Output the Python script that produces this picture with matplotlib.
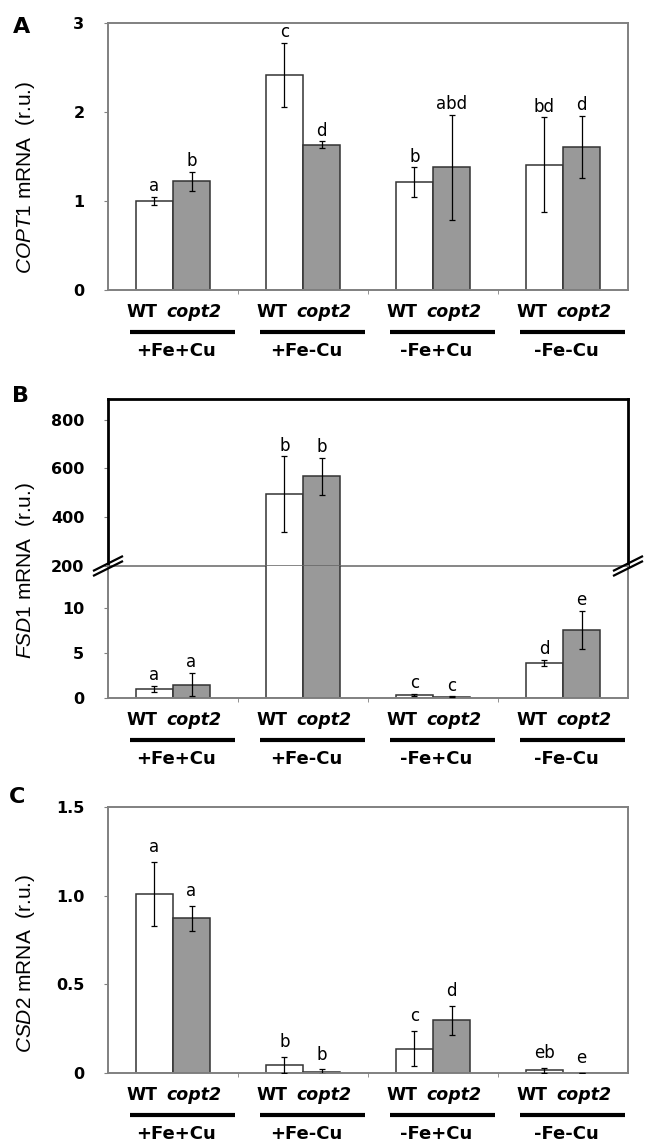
import numpy as np
import matplotlib
matplotlib.use("Agg")
import matplotlib.pyplot as plt
from matplotlib.transforms import offset_copy
from matplotlib.lines import Line2D

plt.rcParams['font.family'] = 'DejaVu Sans'
plt.rcParams['mathtext.fontset'] = 'custom'
plt.rcParams['mathtext.rm'] = 'Liberation Sans'
plt.rcParams['mathtext.it'] = 'Liberation Sans:italic'

conditions = ['+Fe+Cu', '+Fe-Cu', '-Fe+Cu', '-Fe-Cu']

# panel A - COPT1
copt1_wt = [1.00, 2.42, 1.21, 1.41]
copt1_wt_err = [0.05, 0.36, 0.17, 0.53]
copt1_mut = [1.22, 1.63, 1.38, 1.61]
copt1_mut_err = [0.11, 0.04, 0.59, 0.35]
copt1_wt_let = ['a', 'c', 'b', 'bd']
copt1_mut_let = ['b', 'd', 'abd', 'd']

# panel B - FSD1 (broken axis)
fsd1_wt = [1.04, 494, 0.34, 3.9]
fsd1_wt_err = [0.35, 156, 0.10, 0.35]
fsd1_mut = [1.49, 568, 0.15, 7.6]
fsd1_mut_err = [1.30, 76, 0.03, 2.1]
fsd1_wt_let = ['a', 'b', 'c', 'd']
fsd1_mut_let = ['a', 'b', 'c', 'e']

# panel C - CSD2
csd2_wt = [1.01, 0.044, 0.138, 0.015]
csd2_wt_err = [0.18, 0.045, 0.10, 0.013]
csd2_mut = [0.872, 0.008, 0.297, 0.0]
csd2_mut_err = [0.07, 0.012, 0.082, 0.0]
csd2_wt_let = ['a', 'b', 'c', 'eb']
csd2_mut_let = ['a', 'b', 'd', 'e']

W, H = 646, 1144
BW = 0.285
GREY = '#808080'
x = np.arange(4)

fig = plt.figure(figsize=(W / 100, H / 100), dpi=100)


def px_axes(top, bottom, left=108, right=628):
    return fig.add_axes([left / W, 1 - bottom / H, (right - left) / W, (bottom - top) / H])


def style(ax, color=GREY, lw=1.4):
    for s in ax.spines.values():
        s.set_color(color)
        s.set_linewidth(lw)
    ax.set_xlim(-0.5, 3.5)
    ax.set_xticks([])
    ax.set_xticks([0.5, 1.5, 2.5], minor=True)
    ax.tick_params(axis='x', which='minor', length=3, color=GREY, direction='out')
    ax.tick_params(axis='y', length=3, color=GREY, direction='out', pad=14,
                   labelsize=11.5)
    for t in ax.get_yticklabels():
        t.set_fontweight('bold')


def bars(ax, wt, wt_err, mut, mut_err):
    ax.bar(x - BW / 2, wt, BW, color='white', edgecolor='#333333', linewidth=1.1, zorder=2)
    ax.bar(x + BW / 2, mut, BW, color='#999999', edgecolor='#333333', linewidth=1.1, zorder=2)
    ax.errorbar(x - BW / 2, wt, yerr=wt_err, fmt='none', ecolor='black',
                elinewidth=0.9, capsize=2, capthick=0.9, zorder=3)
    ax.errorbar(x + BW / 2, mut, yerr=mut_err, fmt='none', ecolor='black',
                elinewidth=0.9, capsize=2, capthick=0.9, zorder=3)


def letters(ax, xs, tops, labs, off):
    for xi, t, l in zip(xs, tops, labs):
        ax.annotate(l, (xi, t), xytext=(0, off), textcoords='offset points',
                    ha='center', va='baseline', fontsize=12, annotation_clip=False)


def group_labels(ax):
    tr = ax.get_xaxis_transform()
    for i, c in enumerate(conditions):
        ax.text(i, 0, 'WT', transform=offset_copy(tr, fig=fig, x=-16, y=-22, units='dots'),
                ha='right', va='center', fontsize=12.5, fontweight='bold')
        ax.text(i, 0, 'copt2', transform=offset_copy(tr, fig=fig, x=-7, y=-22, units='dots'),
                ha='left', va='center', fontsize=12.5, fontweight='bold', fontstyle='italic')
        ax.plot([i - 0.33, i + 0.48], [0, 0], color='black', lw=3, solid_capstyle='butt',
                transform=offset_copy(tr, fig=fig, y=-42, units='dots'), clip_on=False)
        ax.text(i, 0, c, transform=offset_copy(tr, fig=fig, x=3, y=-61, units='dots'),
                ha='center', va='center', fontsize=13, fontweight='bold')


def ylabel(text, ypx):
    fig.text(26 / W, 1 - ypx / H, text, rotation=90, ha='center', va='center',
             fontsize=15, family='Liberation Sans')


# ---- A ----
axA = px_axes(23, 290)
bars(axA, copt1_wt, copt1_wt_err, copt1_mut, copt1_mut_err)
axA.set_ylim(0, 3)
axA.set_yticks([0, 1, 2, 3])
style(axA)
letters(axA, x - BW / 2, np.add(copt1_wt, copt1_wt_err), copt1_wt_let, 4)
letters(axA, x + BW / 2, np.add(copt1_mut, copt1_mut_err), copt1_mut_let, 4)
group_labels(axA)
ylabel(r'$\mathit{COPT1}$ mRNA  (r.u.)', 177)
fig.text(22 / W, 1 - 27 / H, 'A', fontsize=16, fontweight='bold', ha='center', va='center')

# ---- B ----
axBu = px_axes(399, 566)
axBl = px_axes(566, 698)
axBl.patch.set_visible(False)
for ax in (axBu, axBl):
    bars(ax, fsd1_wt, fsd1_wt_err, fsd1_mut, fsd1_mut_err)
axBu.set_ylim(200, 885)
axBu.set_yticks([200, 400, 600, 800])
axBl.set_ylim(0, 14.7)
axBl.set_yticks([0, 5, 10])
style(axBu, color='black', lw=2.0)
axBu.spines['bottom'].set_color('#666666')
axBu.spines['bottom'].set_linewidth(1.1)
axBu.spines['bottom'].set_zorder(5)
axBu.tick_params(axis='x', which='minor', length=0)
style(axBl)
axBl.spines['top'].set_visible(False)
lim = axBl.get_ylim()[1]
for xs, vals, errs, labs in ((x - BW / 2, fsd1_wt, fsd1_wt_err, fsd1_wt_let),
                             (x + BW / 2, fsd1_mut, fsd1_mut_err, fsd1_mut_let)):
    for xi, v, e, l in zip(xs, vals, errs, labs):
        ax = axBu if v + e > lim else axBl
        letters(ax, [xi], [v + e], [l], 4)
group_labels(axBl)
ylabel(r'$\mathit{FSD1}$ mRNA  (r.u.)', 571)
fig.text(21 / W, 1 - 396 / H, 'B', fontsize=16, fontweight='bold', ha='center', va='center')

# break marks
for xc in (108, 628):
    for dy in (-2.5, 2.5):
        fig.add_artist(Line2D([(xc - 14) / W, (xc + 14) / W],
                              [1 - (566 + 7 + dy) / H, 1 - (566 - 7 + dy) / H],
                              transform=fig.transFigure, color='black', lw=1.6))

# ---- C ----
axC = px_axes(807, 1073)
bars(axC, csd2_wt, csd2_wt_err, csd2_mut, csd2_mut_err)
axC.set_ylim(0, 1.5)
axC.set_yticks([0, 0.5, 1.0, 1.5])
axC.set_yticklabels(['0', '0.5', '1.0', '1.5'])
style(axC)
letters(axC, x - BW / 2, np.add(csd2_wt, csd2_wt_err), csd2_wt_let, 7)
letters(axC, x + BW / 2, np.add(csd2_mut, csd2_mut_err), csd2_mut_let, 7)
group_labels(axC)
ylabel(r'$\mathit{CSD2}$ mRNA  (r.u.)', 963)
fig.text(17 / W, 1 - 797 / H, 'C', fontsize=16, fontweight='bold', ha='center', va='center')

fig.savefig('out.png', dpi=100, facecolor='white')
